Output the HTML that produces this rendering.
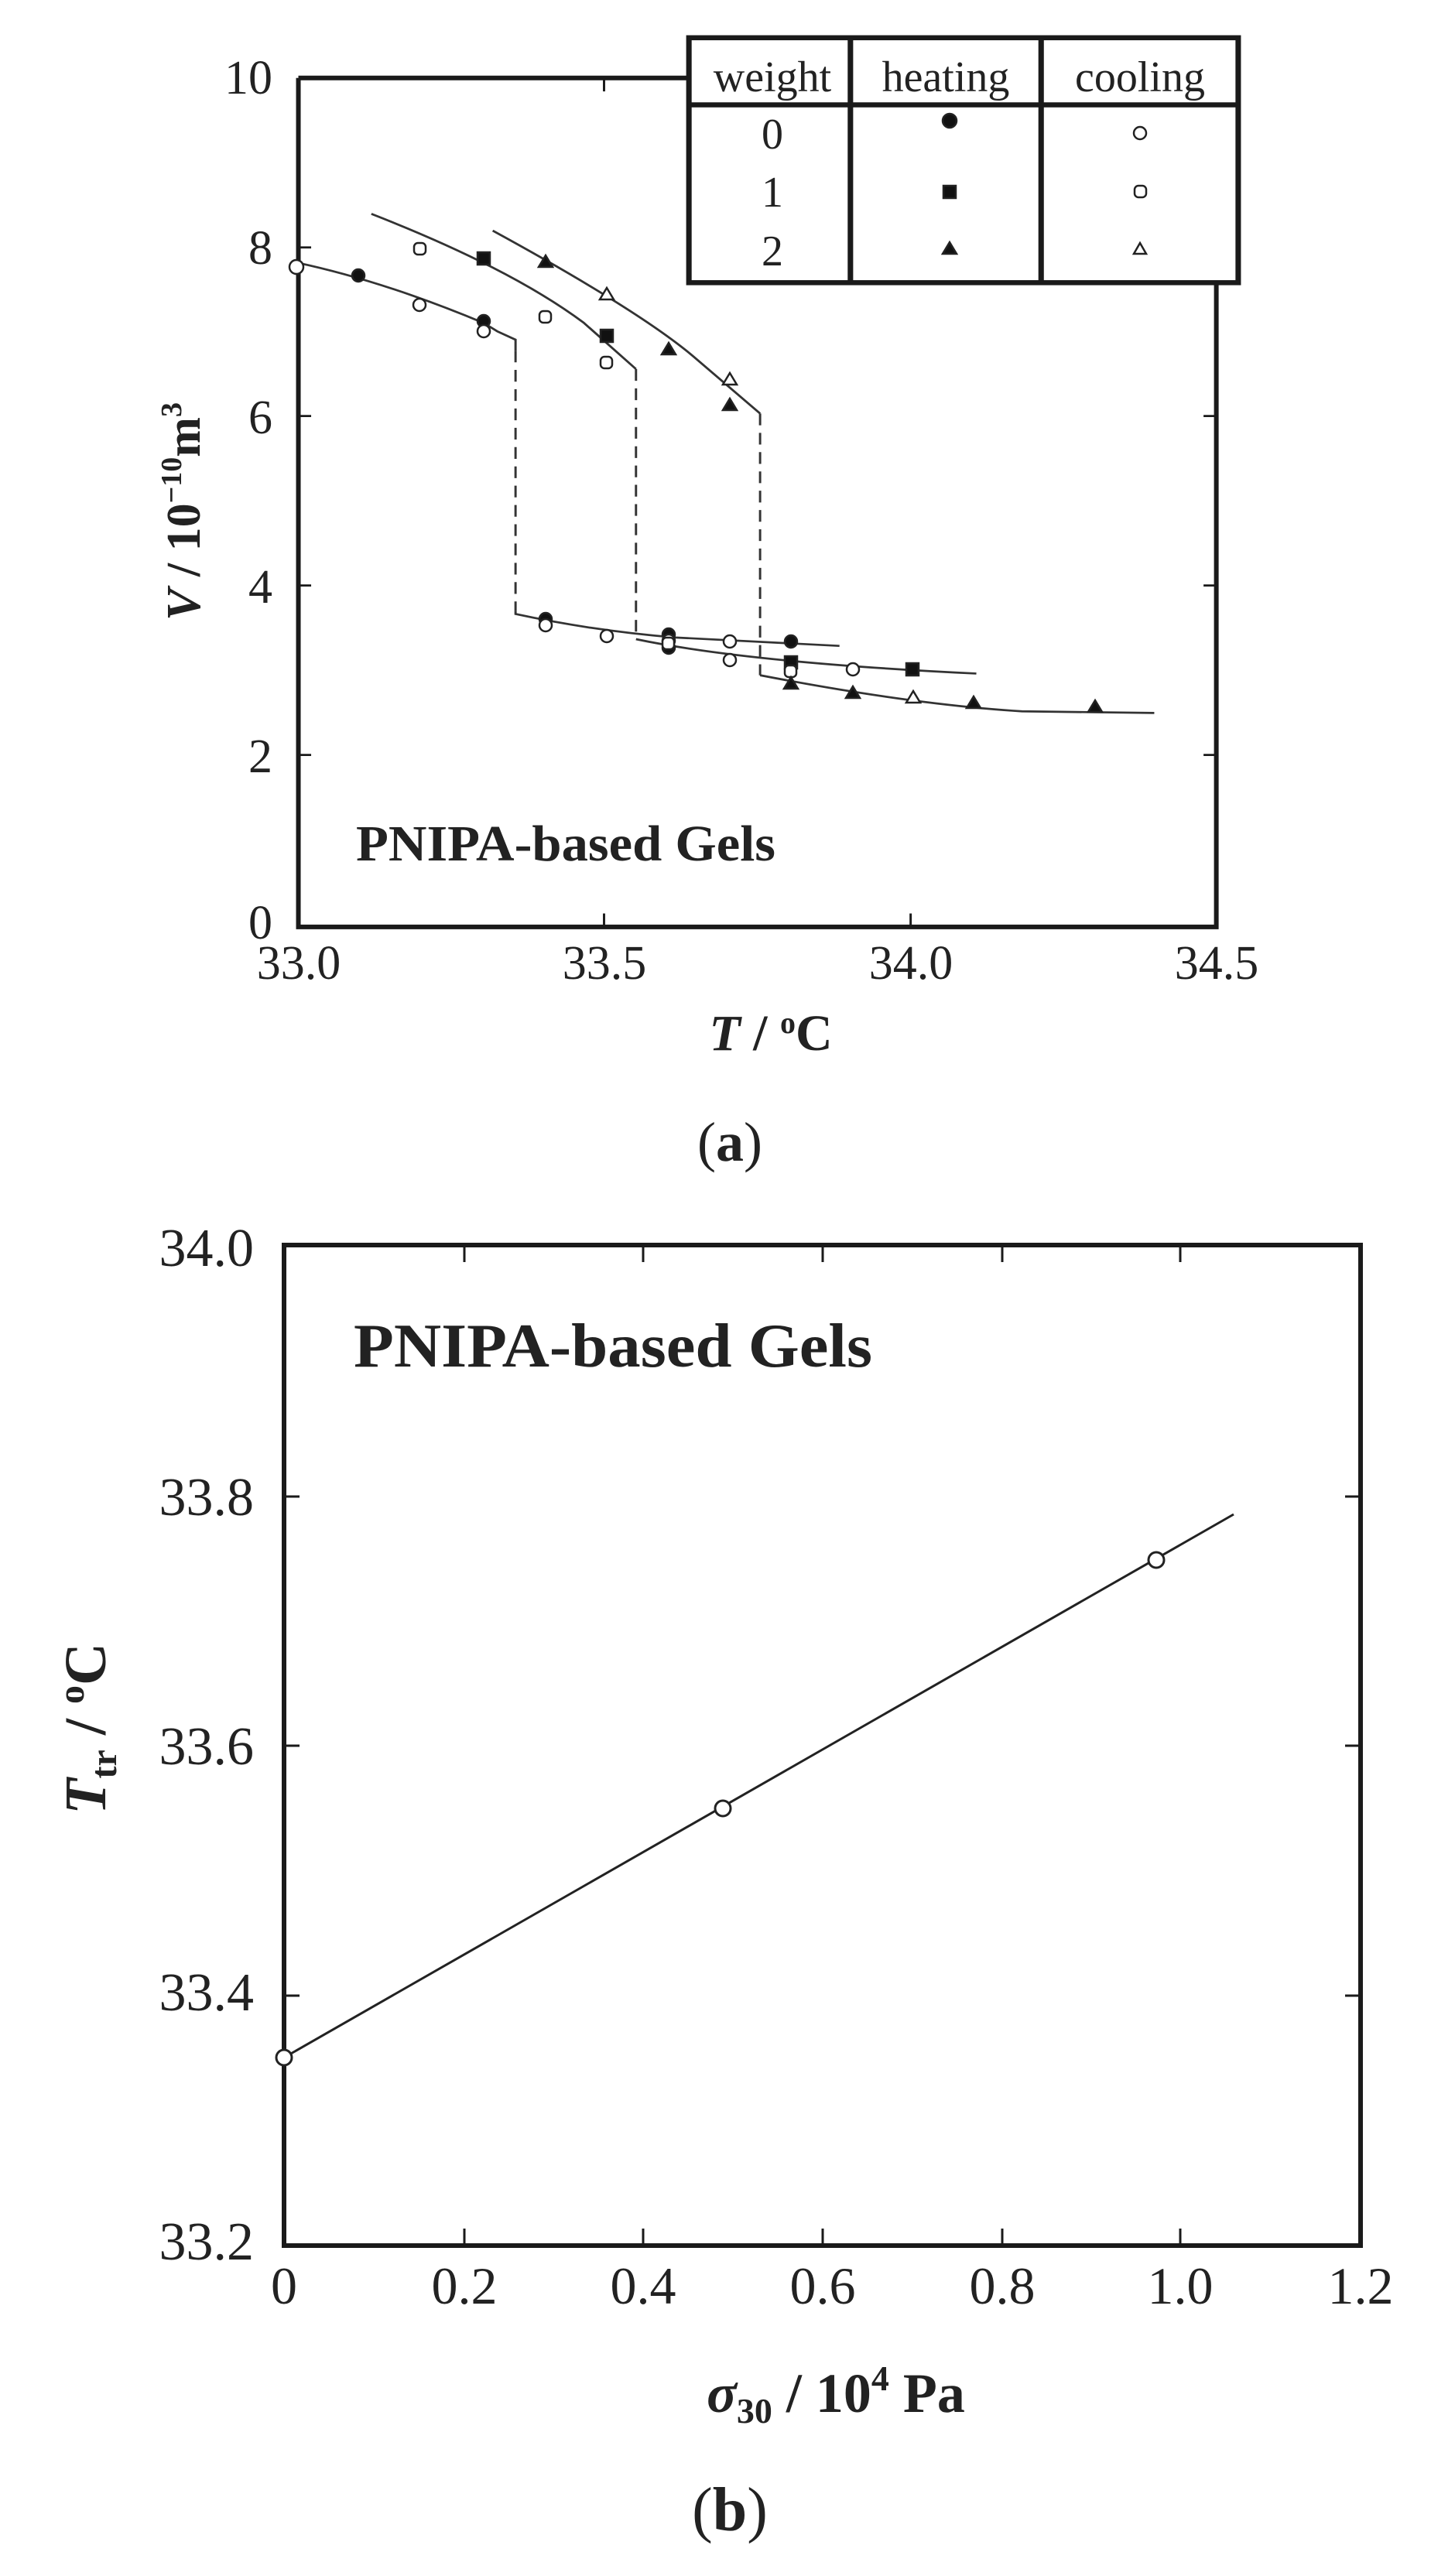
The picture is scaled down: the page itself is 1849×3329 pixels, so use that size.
<!DOCTYPE html>
<html><head><meta charset="utf-8"><style>
html,body{margin:0;padding:0;background:#fff;}
svg{display:block;}
text{font-family:"Liberation Serif",serif;fill:#222;}
</style></head><body>
<svg width="1849" height="3329" viewBox="0 0 1849 3329" xmlns="http://www.w3.org/2000/svg">
<rect width="1849" height="3329" fill="#fff"/>

<g transform="matrix(1.179,0,0,1.084,0,0)" fill="none" stroke="#1a1a1a">
  <path d="M327,93 L757,93 M1333,337 L1333,1105 L327,1105 L327,93" vector-effect="non-scaling-stroke" style="stroke-width:6px"/>
  <g stroke-width="2.5" vector-effect="non-scaling-stroke">
    <path d="M327,900 h14 M327,698 h14 M327,496 h14 M327,295 h14"/>
    <path d="M1333,900 h-14 M1333,698 h-14 M1333,496 h-14"/>
    <path d="M662,1105 v-16 M998,1105 v-16 M662,93 v16"/>
  </g>
  <g vector-effect="non-scaling-stroke" style="stroke-width:6px">
    <rect x="755" y="45" width="602" height="292"/>
    <path d="M755,125 H1357 M932,45 V337 M1141,45 V337"/>
  </g>
  <g stroke-width="2.5" vector-effect="non-scaling-stroke" stroke="#333">
    <path d="M325,313 Q420,335 530,385 L545,395 L565,405 L565,418"/>
    <path d="M565,728 L565,732 Q650,752 740,760 L920,770"/>
    <path d="M407,255 Q560,320 640,385 L697,440"/>
    <path d="M697,762 Q820,790 1070,803"/>
    <path d="M540,275 Q700,370 760,425 L833,493"/>
    <path d="M833,805 Q1000,840 1120,848 L1265,850"/>
    <path d="M565,418 V728 M697,440 V762 M833,493 V805" stroke-dasharray="14,9"/>
  </g>
</g>
<g stroke="#222" stroke-width="2.5">
  <g fill="#111">
    <circle cx="463" cy="356" r="8"/><circle cx="625" cy="415" r="8"/>
    <circle cx="705" cy="800" r="8"/><circle cx="864" cy="820" r="8"/>
    <circle cx="1022" cy="829" r="8"/><circle cx="864" cy="837" r="8"/>
    <circle cx="1227" cy="156" r="9"/>
  </g>
  <g fill="#fff">
    <circle cx="383" cy="345" r="9"/><circle cx="542" cy="394" r="8"/>
    <circle cx="625" cy="428" r="8"/><circle cx="705" cy="808" r="8"/>
    <circle cx="784" cy="822" r="8"/><circle cx="864" cy="828" r="8"/>
    <circle cx="943" cy="829" r="8"/><circle cx="943" cy="853" r="8"/>
    <circle cx="1102" cy="865" r="8"/><circle cx="1473" cy="172" r="8"/>
  </g>
  <g fill="#111">
    <rect x="617" y="326" width="16" height="16"/><rect x="776" y="426" width="16" height="16"/>
    <rect x="1014" y="848" width="16" height="16"/><rect x="1171" y="857" width="16" height="16"/>
    <rect x="1219" y="240" width="16" height="16"/>
  </g>
  <g fill="#fff">
    <rect x="535" y="314" width="15" height="15" rx="5"/><rect x="697" y="402" width="15" height="15" rx="5"/>
    <rect x="776" y="461" width="15" height="15" rx="5"/><rect x="856" y="824" width="15" height="15" rx="5"/>
    <rect x="1014" y="860" width="15" height="15" rx="5"/><rect x="1466" y="240" width="15" height="15" rx="5"/>
  </g>
  <g fill="#111">
    <path d="M705,330 l9,15 h-18z"/><path d="M864,443 l9,15 h-18z"/>
    <path d="M943,515 l9,15 h-18z"/><path d="M1022,875 l9,15 h-18z"/>
    <path d="M1102,887 l9,15 h-18z"/><path d="M1258,900 l9,15 h-18z"/>
    <path d="M1415,905 l9,15 h-18z"/><path d="M1227,313 l9,15 h-18z"/>
  </g>
  <g fill="#fff">
    <path d="M784,372 l9,15 h-18z"/><path d="M943,482 l9,15 h-18z"/>
    <path d="M1180,893 l9,15 h-18z"/><path d="M1473,314 l8,14 h-16z"/>
  </g>
</g>
<g font-size="62" text-anchor="end">
  <text x="352" y="121">10</text><text x="352" y="341">8</text>
  <text x="352" y="560">6</text><text x="352" y="779">4</text>
  <text x="352" y="998">2</text><text x="352" y="1213">0</text>
</g>
<g font-size="62" text-anchor="middle">
  <text x="386" y="1265">33.0</text><text x="781" y="1265">33.5</text>
  <text x="1177" y="1265">34.0</text><text x="1572" y="1265">34.5</text>
</g>
<g font-size="56" text-anchor="middle">
  <text x="998" y="118">weight</text><text x="1222" y="118">heating</text><text x="1473" y="118">cooling</text>
  <text x="998" y="192">0</text><text x="998" y="267">1</text><text x="998" y="343">2</text>
</g>
<text x="460" y="1112" font-size="66" font-weight="bold" textLength="542" lengthAdjust="spacingAndGlyphs">PNIPA-based Gels</text>
<text x="996" y="1357" font-size="66" font-weight="bold" text-anchor="middle"><tspan font-style="italic">T</tspan> / <tspan font-size="40" dy="-22">o</tspan><tspan dy="22">C</tspan></text>
<text transform="translate(258,661) rotate(-90)" font-size="62" font-weight="bold" text-anchor="middle"><tspan font-style="italic">V</tspan> / 10<tspan font-size="38" dy="-24">−10</tspan><tspan dy="24">m</tspan><tspan font-size="38" dy="-24">3</tspan></text>
<text x="943" y="1500" font-size="72" text-anchor="middle">(<tspan font-weight="bold">a</tspan>)</text>

<g fill="none" stroke="#1a1a1a">
  <rect x="367" y="1609" width="1391" height="1293" stroke-width="6"/>
  <g stroke-width="3">
    <path d="M600,2902 v-22 M831,2902 v-22 M1063,2902 v-22 M1295,2902 v-22 M1525,2902 v-22"/>
    <path d="M600,1609 v22 M831,1609 v22 M1063,1609 v22 M1295,1609 v22 M1525,1609 v22"/>
    <path d="M367,1934 h20 M367,2256 h20 M367,2579 h20"/>
    <path d="M1758,1934 h-20 M1758,2256 h-20 M1758,2579 h-20"/>
  </g>
  <path d="M367,2659 L1594,1957" stroke-width="3" stroke="#222"/>
  <g fill="#fff" stroke-width="3" stroke="#222">
    <circle cx="367" cy="2659" r="10"/><circle cx="934" cy="2337" r="10"/><circle cx="1494" cy="2016" r="10"/>
  </g>
</g>
<g font-size="70" text-anchor="end">
  <text x="328" y="1636">34.0</text><text x="328" y="1958">33.8</text>
  <text x="328" y="2280">33.6</text><text x="328" y="2598">33.4</text>
  <text x="328" y="2920">33.2</text>
</g>
<g font-size="68" text-anchor="middle">
  <text x="367" y="2977">0</text><text x="600" y="2977">0.2</text><text x="831" y="2977">0.4</text>
  <text x="1063" y="2977">0.6</text><text x="1295" y="2977">0.8</text><text x="1525" y="2977">1.0</text>
  <text x="1758" y="2977">1.2</text>
</g>
<text x="457" y="1766" font-size="80" font-weight="bold" textLength="670" lengthAdjust="spacingAndGlyphs">PNIPA-based Gels</text>
<text x="1080" y="3117" font-size="72" font-weight="bold" text-anchor="middle"><tspan font-style="italic">σ</tspan><tspan font-size="46" dy="14">30</tspan><tspan dy="-14"> / 10</tspan><tspan font-size="46" dy="-28">4</tspan><tspan dy="28"> Pa</tspan></text>
<text transform="translate(136,2234) rotate(-90)" font-size="76" font-weight="bold" text-anchor="middle"><tspan font-style="italic">T</tspan><tspan font-size="48" dy="14">tr</tspan><tspan dy="-14"> / </tspan><tspan font-size="48" dy="-28">o</tspan><tspan dy="28">C</tspan></text>
<text x="943" y="3270" font-size="80" text-anchor="middle">(<tspan font-weight="bold">b</tspan>)</text>
</svg>
</body></html>
